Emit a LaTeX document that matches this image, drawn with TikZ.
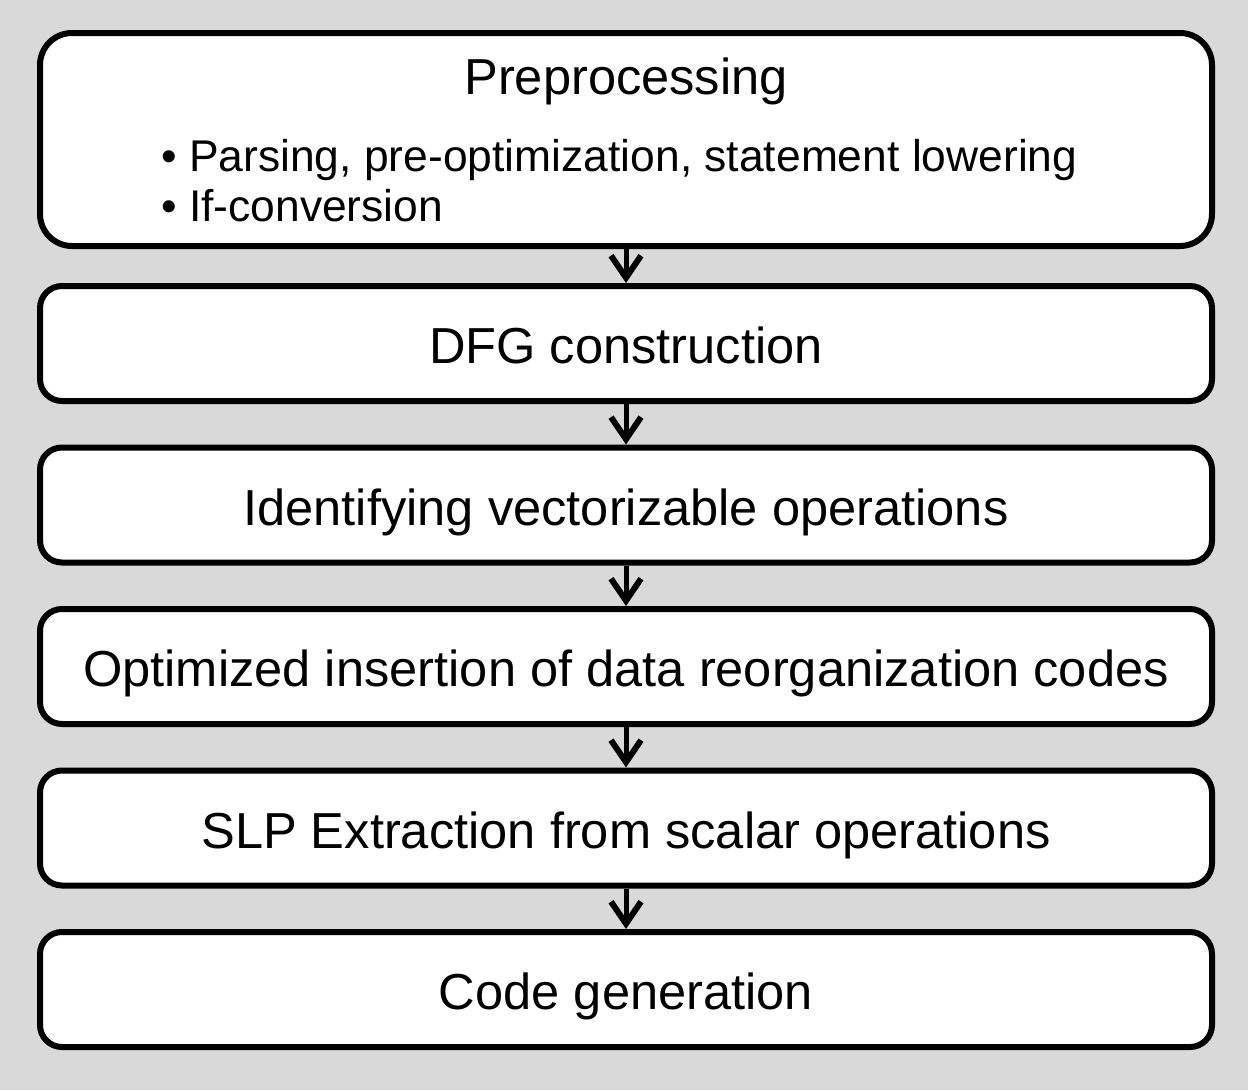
\documentclass[tikz,border=0pt]{standalone}
\usepackage{fontspec}
\setmainfont{Liberation Sans}
\usetikzlibrary{arrows.meta}
\begin{document}
\begin{tikzpicture}[x=1pt,y=-1pt,
  stage/.style={draw=black, line width=6pt, fill=white, rounded corners=22pt,
    minimum width=1172pt, minimum height=115pt, inner sep=0pt,
    text height=40pt, text depth=0pt,
    font=\fontsize{50.6}{60}\selectfont},
  flow/.style={line width=5pt, -{Straight Barb[length=22pt,width=30pt,line width=6pt]}},
  bullet/.style={anchor=base west, inner sep=0pt, font=\fontsize{44.4}{53}\selectfont}]
  % canvas
  \fill[fill={rgb,255:red,217;green,217;blue,217}] (0,0) rectangle (1248,1090);
  \useasboundingbox (0,0) rectangle (1248,1090);

  % stage boxes
  \node[stage, minimum height=213pt, rounded corners=32pt] (pre) at (626,139.5) {};
  \node[stage] (dfg)  at (626,343.5) {DFG construction};
  \node[stage] (ident) at (626,505)  {Identifying vectorizable operations};
  \node[stage] (reorg) at (626,666.5) {Optimized insertion of data reorganization codes};
  \node[stage] (slp)  at (626,828)   {SLP Extraction from scalar operations};
  \node[stage] (gen)  at (626,989.5) {Code generation};

  % contents of the preprocessing stage
  \node[anchor=base, inner sep=0pt, font=\fontsize{50.6}{60}\selectfont] (pretitle) at (626,94) {Preprocessing};
  \node[bullet] (b1) at (161,171) {\textbullet\ Parsing, pre-optimization, statement lowering};
  \node[bullet] (b2) at (161,221) {\textbullet\ If-conversion};

  % flow between stages
  \draw[flow] (pre.south) -- (dfg.north);
  \draw[flow] (dfg.south) -- (ident.north);
  \draw[flow] (ident.south) -- (reorg.north);
  \draw[flow] (reorg.south) -- (slp.north);
  \draw[flow] (slp.south) -- (gen.north);
\end{tikzpicture}
\end{document}
